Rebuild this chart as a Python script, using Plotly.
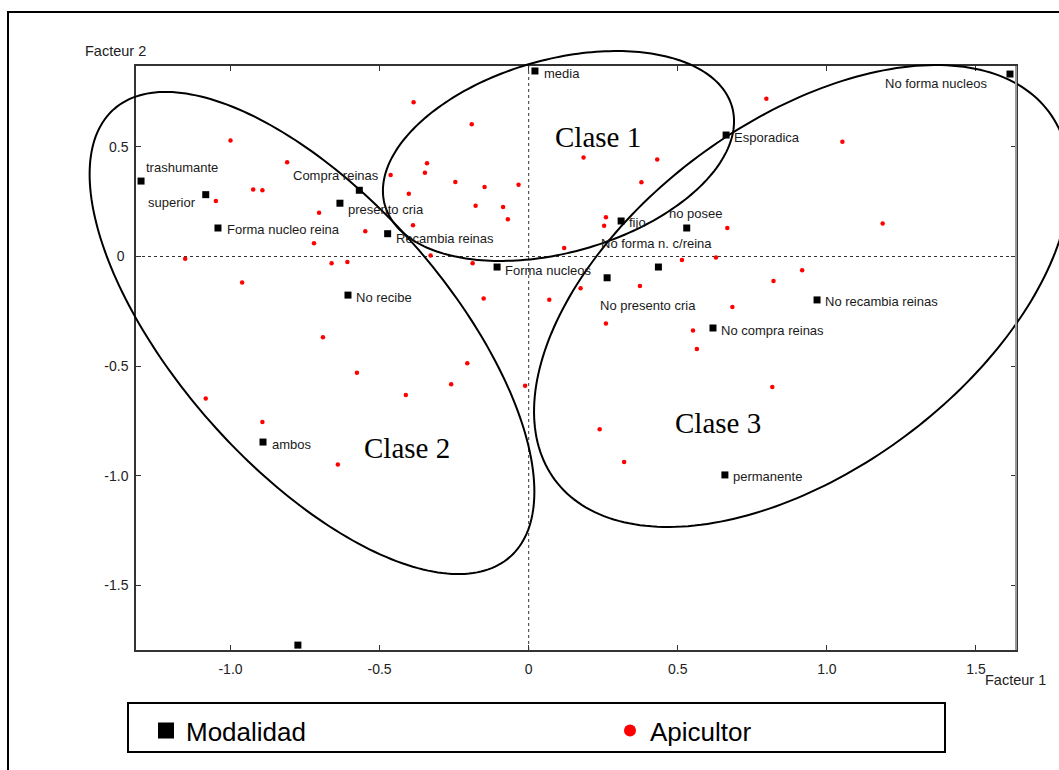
import numpy as np
import plotly.graph_objects as go

# ---------------- data ----------------
mod_labels = ["trashumante", "superior", "Forma nucleo reina", "Compra reinas", "presento cria",
              "Recambia reinas", "No recibe", "ambos", "", "media", "Esporadica", "fijo",
              "no posee", "Forma nucleos", "No presento cria", "No forma n. c/reina",
              "No recambia reinas", "No compra reinas", "permanente", "No forma nucleos"]
mod_x = [-1.300, -1.083, -1.042, -0.568, -0.633, -0.473, -0.606, -0.891, -0.774, 0.021,
         0.662, 0.310, 0.530, -0.106, 0.263, 0.435, 0.967, 0.618, 0.658, 1.614]
mod_y = [0.344, 0.282, 0.130, 0.302, 0.243, 0.104, -0.176, -0.846, -1.772, 0.846,
         0.554, 0.162, 0.130, -0.048, -0.097, -0.048, -0.198, -0.326, -0.996, 0.832]

api_x = [-1.000, -0.810, -0.924, -0.893, -1.049, -0.703, -0.548, -0.720, -1.152, -0.661,
         -0.608, -0.463, -0.402, -0.388, -0.348, -0.341, -0.386, -0.191, -0.246, -0.148,
         -0.034, -0.178, -0.086, -0.070, -0.329, -0.188, -0.961, -0.151, 0.069, -0.690,
         -0.576, -0.206, -0.260, -0.012, -0.412, -1.083, -0.893, -0.640, 0.184, 0.431,
         0.378, 0.259, 0.253, 0.666, 0.119, 0.514, 0.628, 0.174, 0.373, 0.683,
         0.259, 0.551, 0.564, 0.821, 0.917, 0.817, 0.238, 0.320, 0.797, 1.052, 1.187]
api_y = [0.529, 0.430, 0.306, 0.302, 0.253, 0.200, 0.115, 0.060, -0.010, -0.031,
         -0.025, 0.372, 0.286, 0.142, 0.382, 0.425, 0.703, 0.603, 0.340, 0.317,
         0.327, 0.232, 0.226, 0.170, 0.005, -0.031, -0.118, -0.192, -0.197, -0.368,
         -0.530, -0.487, -0.583, -0.589, -0.632, -0.648, -0.755, -0.949, 0.451, 0.442,
         0.339, 0.179, 0.140, 0.130, 0.039, -0.016, -0.005, -0.145, -0.135, -0.230,
         -0.305, -0.337, -0.422, -0.112, -0.063, -0.595, -0.788, -0.937, 0.719, 0.523, 0.150]

x_tickvals = [-1.0, -0.5, 0, 0.5, 1.0, 1.5]
x_ticktext = ["-1.0", "-0.5", "0", "0.5", "1.0", "1.5"]
y_tickvals = [0.5, 0, -0.5, -1.0, -1.5]
y_ticktext = ["0.5", "0\u00a0", "-0.5", "-1.0", "-1.5"]

clase_names = ["Clase 1", "Clase 2", "Clase 3"]
clase_x = [0.232, -0.409, 0.636]
clase_y = [0.545, -0.875, -0.759]

# ---------------- layout constants ----------------
W, H = 1059, 770
ML, MR, MT, MB = 136, 43, 66, 120
PW, PH = W - ML - MR, H - MT - MB
X_RANGE = [-1.3169, 1.6342]
Y_RANGE = [-1.7943, 0.8687]

# label placement (xanchor, xshift px, yshift px)
label_pos = {
    "trashumante": ("left", 4, 14),
    "superior": ("right", -9, -8),
    "Forma nucleo reina": ("left", 8, -1),
    "Compra reinas": ("right", 21, 15),
    "presento cria": ("left", 7, -6),
    "Recambia reinas": ("left", 7, -5),
    "No recibe": ("left", 7, -2),
    "ambos": ("left", 8, -2),
    "media": ("left", 8, -3),
    "Esporadica": ("left", 7, -2),
    "fijo": ("left", 7, -2),
    "no posee": ("left", -19, 15),
    "Forma nucleos": ("left", 7, -3),
    "No presento cria": ("left", -8, -28),
    "No forma n. c/reina": ("left", -58, 24),
    "No recambia reinas": ("left", 7, -2),
    "No compra reinas": ("left", 7, -2),
    "permanente": ("left", 7, -2),
    "No forma nucleos": ("right", -22, -9),
}

fig = go.Figure()

fig.add_trace(go.Scatter(
    x=api_x, y=api_y, mode="markers", name="Apicultor",
    marker=dict(symbol="circle", size=4.5, color="#ff0000"),
    showlegend=False, legendgroup="api"))
fig.add_trace(go.Scatter(
    x=mod_x, y=mod_y, mode="markers", name="Modalidad",
    marker=dict(symbol="square", size=7, color="black"),
    showlegend=False, legendgroup="mod"))

# legend entries
fig.add_trace(go.Scatter(
    x=[None], y=[None], mode="markers", name="Modalidad", legendgroup="mod",
    marker=dict(symbol="square", size=16, color="black"), legend="legend"))
fig.add_trace(go.Scatter(
    x=[None], y=[None], mode="markers", name="Apicultor", legendgroup="api",
    marker=dict(symbol="circle", size=12, color="#ff0000"), legend="legend2"))

annotations = []
for lab, xv, yv in zip(mod_labels, mod_x, mod_y):
    if not lab:
        continue
    xa, xs, ys = label_pos[lab]
    annotations.append(dict(
        x=xv, y=yv, xref="x", yref="y", text=lab, showarrow=False,
        xanchor=xa, yanchor="middle", xshift=xs, yshift=ys, borderpad=0,
        font=dict(family="Liberation Sans, Arial", size=13, color="#1a1a1a")))

for name, xv, yv in zip(clase_names, clase_x, clase_y):
    annotations.append(dict(
        x=xv, y=yv, xref="x", yref="y", text=name, showarrow=False,
        xanchor="center", yanchor="middle", borderpad=0,
        font=dict(family="Liberation Serif, Times New Roman", size=29, color="black")))

annotations.append(dict(
    x=(82.7 - ML) / PW, y=(MT + PH - 50.7) / PH, xref="paper", yref="paper",
    text="Facteur 2", showarrow=False, xanchor="left", yanchor="middle",
    font=dict(family="Liberation Sans, Arial", size=14.5, color="#222")))
annotations.append(dict(
    x=(983 - ML) / PW, y=(MT + PH - 680) / PH, xref="paper", yref="paper",
    text="Facteur 1", showarrow=False, xanchor="left", yanchor="middle",
    font=dict(family="Liberation Sans, Arial", size=14.5, color="#222")))


def ellipse_path(cx, cy, a_px, b_px, ang_deg, n=240):
    t = np.linspace(0, 2 * np.pi, n, endpoint=False)
    th = np.radians(ang_deg)
    dx = a_px * np.cos(t) * np.cos(th) - b_px * np.sin(t) * np.sin(th)
    dy = a_px * np.cos(t) * np.sin(th) + b_px * np.sin(t) * np.cos(th)
    px0 = (cx - X_RANGE[0]) / (X_RANGE[1] - X_RANGE[0])
    py0 = (cy - Y_RANGE[0]) / (Y_RANGE[1] - Y_RANGE[0])
    xs = px0 + dx / PW
    ys = py0 + dy / PH
    return "M " + " L ".join(f"{x:.5f},{y:.5f}" for x, y in zip(xs, ys)) + " Z"


ellipses = [
    (0.0999, 0.4583, 180.4, 96.4, 15.8),
    (-0.7267, -0.3488, 298.9, 135.0, -48.5),
    (0.9165, -0.1801, 308.0, 174.0, 36.7),
]

shapes = []
# dashed zero lines
shapes.append(dict(type="line", xref="x", yref="paper", x0=0, x1=0, y0=0, y1=1,
                   line=dict(color="#333", width=1, dash="3px,3px"), layer="below"))
shapes.append(dict(type="line", xref="paper", yref="y", x0=0, x1=1, y0=0, y1=0,
                   line=dict(color="#333", width=1, dash="3px,3px"), layer="below"))
for e in ellipses:
    shapes.append(dict(type="path", xref="paper", yref="paper", path=ellipse_path(*e),
                       line=dict(color="black", width=2)))
# right border in grey
shapes.append(dict(type="line", xref="paper", yref="paper", x0=1, x1=1, y0=0, y1=1,
                   line=dict(color="#9a9a9a", width=2)))
# legend box
shapes.append(dict(type="rect", xref="paper", yref="paper",
                   x0=(128 - ML) / PW, x1=(945 - ML) / PW,
                   y0=(MT + PH - 752) / PH, y1=(MT + PH - 703) / PH,
                   line=dict(color="black", width=2)))
# outer frame
shapes.append(dict(type="rect", xref="paper", yref="paper",
                   x0=(8 - ML) / PW, x1=1.3, y0=-0.4, y1=(MT + PH - 12) / PH,
                   line=dict(color="black", width=2)))

axis_font = dict(family="Liberation Sans, Arial", size=14, color="#222")

fig.update_layout(
    width=W, height=H,
    margin=dict(l=ML, r=MR, t=MT, b=MB),
    paper_bgcolor="white", plot_bgcolor="white",
    annotations=annotations, shapes=shapes,
    xaxis=dict(range=X_RANGE, tickvals=x_tickvals, ticktext=x_ticktext,
               showgrid=False, zeroline=False, showline=True, linecolor="#333",
               linewidth=1.5, mirror="ticks", ticks="inside", ticklen=5,
               tickcolor="#333", tickfont=axis_font, ticklabelstandoff=5),
    yaxis=dict(range=Y_RANGE, tickvals=y_tickvals, ticktext=y_ticktext,
               showgrid=False, zeroline=False, showline=True, linecolor="#333",
               linewidth=1.5, mirror="ticks", ticks="inside", ticklen=5,
               tickcolor="#333", tickfont=axis_font, ticklabelstandoff=3),
    legend=dict(orientation="h", x=(146 - ML) / PW, y=(MT + PH - 730.7) / PH,
                xanchor="left", yanchor="middle", bgcolor="rgba(0,0,0,0)",
                borderwidth=0, itemsizing="trace",
                font=dict(family="Liberation Sans, Arial", size=26, color="black")),
    legend2=dict(orientation="h", x=(610 - ML) / PW, y=(MT + PH - 730.7) / PH,
                 xanchor="left", yanchor="middle", bgcolor="rgba(0,0,0,0)",
                 borderwidth=0, itemsizing="trace",
                 font=dict(family="Liberation Sans, Arial", size=26, color="black")),
)

fig.write_html("out.html",
               config={"displayModeBar": False},
               post_script="document.body.style.margin='0px';document.body.style.padding='0px';")
